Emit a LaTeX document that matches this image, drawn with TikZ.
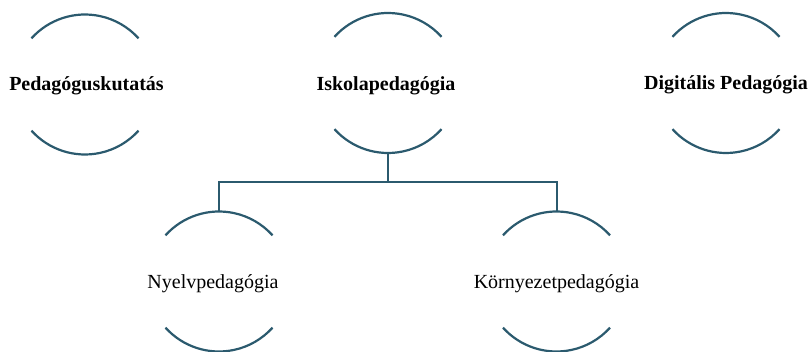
\documentclass[tikz,border=0pt]{standalone}
\usepackage{fontspec}
\setmainfont{Liberation Serif}
\definecolor{linkcol}{RGB}{43,90,110}
\begin{document}
\begin{tikzpicture}[x=1pt,y=1pt,
  arcline/.style={draw=linkcol,line width=2.2pt},
  conn/.style={draw=linkcol,line width=2pt},
  toplabel/.style={anchor=base,inner sep=0pt,font=\fontsize{20}{24}\selectfont\bfseries},
  lowlabel/.style={anchor=base,inner sep=0pt,font=\fontsize{20}{24}\selectfont},
  halo/.pic={
    \draw[arcline] (0,-2) ++(138:72) arc[start angle=138,end angle=42,radius=72pt];
    \draw[arcline] (0,2) ++(222:72) arc[start angle=222,end angle=318,radius=72pt];
  }]
\useasboundingbox (0,0) rectangle (809,-352);
% ring centres
\coordinate (cA) at (85,-84.5);
\coordinate (cB) at (388,-83);
\coordinate (cC) at (726,-83);
\coordinate (cD) at (219,-281.5);
\coordinate (cE) at (556.5,-281.5);
\pic at (cA) {halo};
\pic at (cB) {halo};
\pic at (cC) {halo};
\pic at (cD) {halo};
\pic at (cE) {halo};
% labels
\node[toplabel] (A) at (86.5,-90.5) {Pedagóguskutatás};
\node[toplabel] (B) at (386,-90.5) {Iskolapedagógia};
\node[toplabel] (C) at (726,-89.5) {Digitális Pedagógia};
\node[lowlabel] (D) at (213,-288.5) {Nyelvpedagógia};
\node[lowlabel] (E) at (556.5,-288.5) {Környezetpedagógia};
% connector anchor points (ring apexes)
\coordinate (Bbot) at ([yshift=-70pt]cB);
\coordinate (Dtop) at ([yshift=70pt]cD);
\coordinate (Etop) at ([yshift=70pt]cE);
\coordinate (junc) at (388,-182.3);
\draw[conn] (Bbot) -- (junc);
\draw[conn] (Dtop) -- (Dtop |- junc) -- (Etop |- junc) -- (Etop);
\end{tikzpicture}
\end{document}
